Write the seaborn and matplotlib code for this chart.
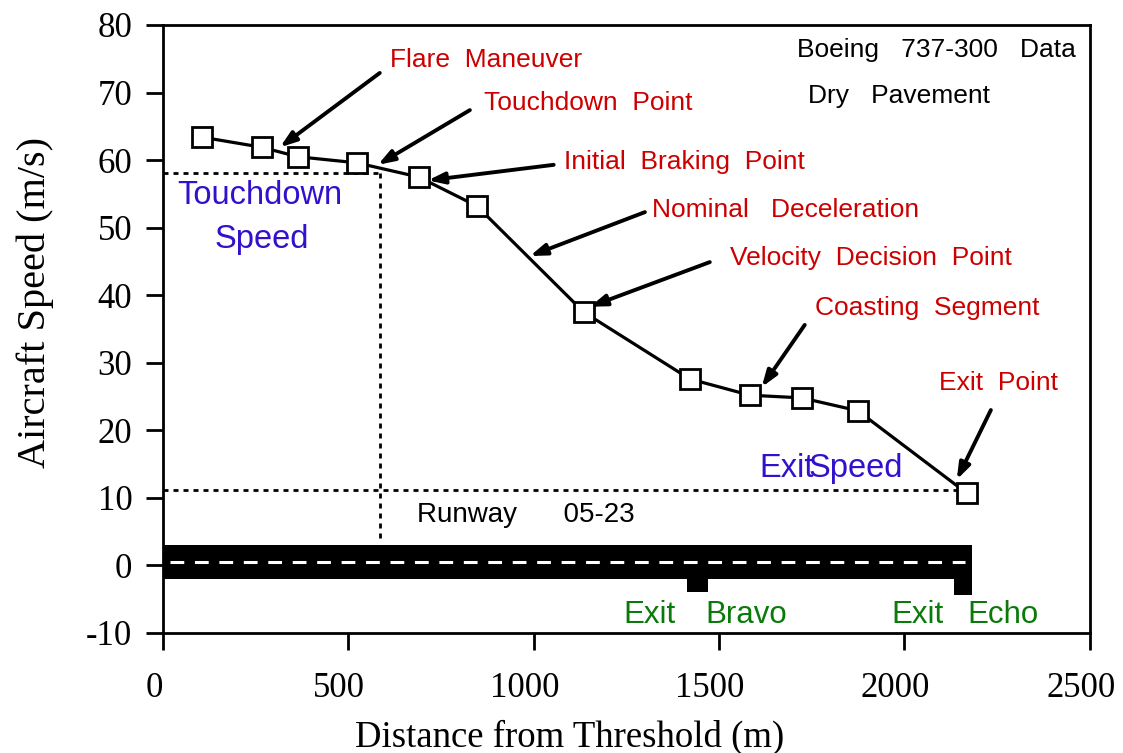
import matplotlib
matplotlib.use("Agg")
import matplotlib.pyplot as plt
import seaborn as sns
import pandas as pd
from matplotlib.patches import Rectangle
from matplotlib.transforms import ScaledTranslation

# ---- data ----
distance = [105, 267, 364, 523, 690, 847, 1135, 1421, 1583, 1723, 1874, 2168]
speed = [63.4, 61.9, 60.5, 59.6, 57.5, 53.2, 37.5, 27.6, 25.2, 24.8, 22.9, 10.7]

touchdown_dist = 585
touchdown_speed = 58.1
exit_speed = 11.2
exit_speed_end = 2150

runway_start, runway_end = 0, 2182
runway_top, runway_bottom = 3.0, -2.0
runway_center = 0.5
exit_bravo = (1413, 1470, -3.9)
exit_echo = (2133, 2182, -4.4)

x_ticks = [0, 500, 1000, 1500, 2000, 2500]
y_ticks = [-10, 0, 10, 20, 30, 40, 50, 60, 70, 80]

# annotation: label, text pos (left, center y), arrow tail, arrow head
annotations = [
    ("Flare  Maneuver", (612, 74.8), (585, 72.9), (316, 61.9)),
    ("Touchdown  Point", (866, 68.4), (828, 67.4), (580, 59.3)),
    ("Initial  Braking  Point", (1081, 59.7), (1054, 59.3), (715, 57.0)),
    ("Nominal   Deceleration", (1319, 52.6), (1300, 52.3), (990, 45.8)),
    ("Velocity  Decision  Point", (1529, 45.5), (1475, 44.9), (1152, 38.3)),
    ("Coasting  Segment", (1758, 38.1), (1731, 35.6), (1615, 26.4)),
    ("Exit  Point", (2093, 27.0), (2233, 23.0), (2141, 12.7)),
]

df = pd.DataFrame({"distance": distance, "speed": speed})

sns.set_theme(style="white")
plt.rcParams["font.family"] = ["Liberation Serif", "DejaVu Serif"]
plt.rcParams["axes.unicode_minus"] = False

fig = plt.figure(figsize=(11.23, 7.53), dpi=100)
ax = fig.add_axes([0.145, 0.1594, 0.8255, 0.8074])

RED = "#cc0000"
BLUE = "#3311cc"
GREEN = "#0b7a0b"
SANS = ["Liberation Sans", "DejaVu Sans"]

# runway
ax.add_patch(Rectangle((runway_start, runway_bottom), runway_end - runway_start,
                       runway_top - runway_bottom, facecolor="black", edgecolor="none", zorder=2))
for x0, x1, yb in (exit_bravo, exit_echo):
    ax.add_patch(Rectangle((x0, yb), x1 - x0, runway_bottom - yb + 0.1,
                           facecolor="black", edgecolor="none", zorder=2))
ax.plot([20, runway_end - 20], [runway_center, runway_center], color="white",
        lw=2.2, dashes=(4.5, 3.5), zorder=3)

# dotted reference lines
dot = dict(color="black", lw=2.0, ls=(0, (1.8, 1.8)), zorder=3)
ax.plot([0, touchdown_dist], [touchdown_speed, touchdown_speed], **dot)
ax.plot([touchdown_dist, touchdown_dist], [touchdown_speed, 3.8], **dot)
ax.plot([0, exit_speed_end], [exit_speed, exit_speed], **dot)

# main line
sns.lineplot(data=df, x="distance", y="speed", sort=False, ax=ax, color="black",
             lw=2.3, marker="s", markersize=14, markerfacecolor="white",
             markeredgecolor="black", markeredgewidth=2.0, zorder=5)

# annotations
for label, tpos, tail, head in annotations:
    ax.annotate("", xy=head, xytext=tail,
                arrowprops=dict(arrowstyle="-|>,head_length=0.8,head_width=0.28",
                                color="black", lw=2.8, shrinkA=0, shrinkB=0), zorder=6)
    ax.text(tpos[0], tpos[1], label, color=RED, fontsize=19, family=SANS,
            ha="left", va="center", zorder=6)

ax.text(262, 54.7, "Touchdown", color=BLUE, fontsize=23.5, family=SANS, ha="center", va="center")
ax.text(267, 48.2, "Speed", color=BLUE, fontsize=23.5, family=SANS, ha="center", va="center")
ax.text(1610, 14.4, "Exit", color=BLUE, fontsize=23.5, family=SANS, ha="left", va="center")
ax.text(1740, 14.4, "Speed", color=BLUE, fontsize=23.5, family=SANS, ha="left", va="center")

ax.text(1710, 76.3, "Boeing   737-300   Data", color="black", fontsize=19, family=SANS,
        ha="left", va="center")
ax.text(1739, 69.5, "Dry   Pavement", color="black", fontsize=19, family=SANS,
        ha="left", va="center")
ax.text(685, 7.5, "Runway      05-23", color="black", fontsize=20, family=SANS,
        ha="left", va="center")

ax.text(1241, -7.3, "Exit", color=GREEN, fontsize=22.5, family=SANS, ha="left", va="center")
ax.text(1462, -7.3, "Bravo", color=GREEN, fontsize=22.5, family=SANS, ha="left", va="center")
ax.text(1966, -7.3, "Exit", color=GREEN, fontsize=22.5, family=SANS, ha="left", va="center")
ax.text(2171, -7.3, "Echo", color=GREEN, fontsize=22.5, family=SANS, ha="left", va="center")

ax.set_xlim(0, 2500)
ax.set_ylim(-10, 80)
ax.set_xticks(x_ticks)
ax.set_yticks(y_ticks)
ax.tick_params(axis="both", direction="out", length=12, width=2, labelsize=25,
               colors="black", bottom=True, left=True)
ax.tick_params(axis="x", pad=16)
ax.tick_params(axis="y", pad=10)
shift = ScaledTranslation(-9 / 100, 0, fig.dpi_scale_trans)
for lab in ax.get_xticklabels():
    lab.set_transform(lab.get_transform() + shift)

ax.set_xlabel("Distance from Threshold (m)", fontsize=26.5, color="black")
ax.set_ylabel("Aircraft Speed (m/s)", fontsize=29, color="black")
ax.xaxis.set_label_coords(0.439, -0.171)
ax.xaxis.label.set_verticalalignment("center")
ax.yaxis.set_label_coords(-0.138, 0.543)
ax.yaxis.label.set_verticalalignment("center")
for s in ax.spines.values():
    s.set_visible(True)
    s.set_color("black")
    s.set_linewidth(2)
ax.grid(False)

fig.savefig("out.png", dpi=100, facecolor="white")
